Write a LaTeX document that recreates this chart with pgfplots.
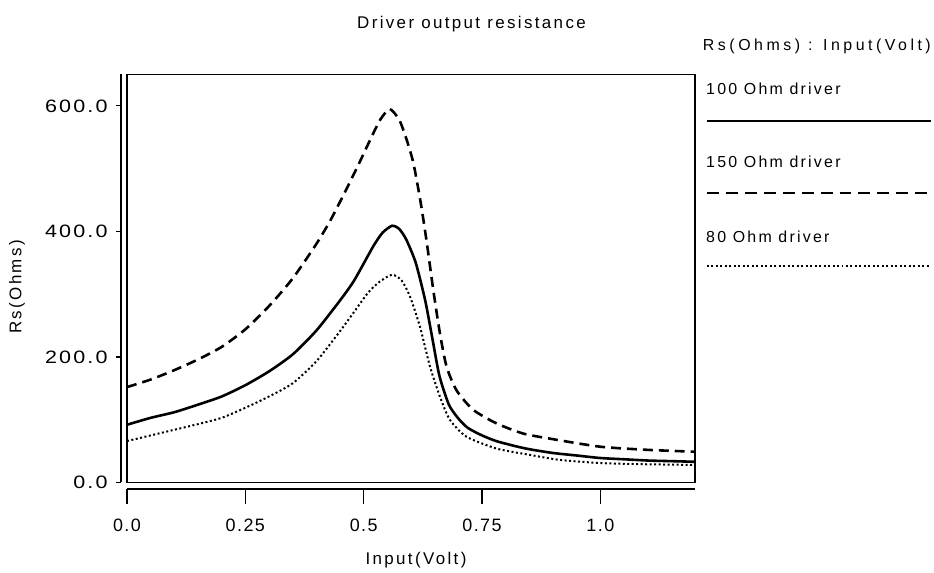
\documentclass[border=0pt]{standalone}
\usepackage{pgfplots}
\pgfplotsset{compat=1.18}
\usepackage{fontspec}
\setmainfont[LetterSpace=14]{Liberation Sans}
\newcommand{\lbl}{\fontsize{16}{19}\selectfont}
\newcommand{\biglbl}{\fontsize{17}{20}\selectfont}
\newcommand{\xlbl}{\fontsize{18}{21}\selectfont\addfontfeature{LetterSpace=8}}
\newcommand{\ylbl}{\fontsize{18}{21}\selectfont\addfontfeature{FakeStretch=1.2,LetterSpace=12}}
\newcommand{\leglbl}{\fontsize{16}{19}\selectfont\addfontfeature{LetterSpace=22}}
\begin{document}
\begin{tikzpicture}[x=1bp,y=1bp]
\path[use as bounding box] (0,0) rectangle (934,573);
\begin{axis}[
  at={(127bp,90.5bp)}, anchor=south west,
  scale only axis, width=568bp, height=408bp,
  xmin=0, xmax=1.2, ymin=0, ymax=650,
  clip=false,
  axis line style={line width=1.2pt},
  xtick={0,0.25,0.5,0.75,1.0}, xticklabels={0.0,0.25,0.5,0.75,1.0},
  ytick={0,200,400,600}, yticklabels={0.0,200.0,400.0,600.0},
  major tick length=0pt,
  /pgf/number format/assume math mode=true,
  xticklabel style={font=\xlbl, yshift=-33bp},
  yticklabel style={font=\ylbl, xshift=-16bp},
]
% 100 Ohm driver
\addplot[black, line width=2.6pt, smooth, tension=0.4] coordinates {
(0,92) (0.05,103) (0.1,112) (0.15,124) (0.2,137) (0.25,155) (0.3,177)
(0.35,204) (0.4,242) (0.45,290) (0.48,322) (0.52,376) (0.54,398) (0.56,409)
(0.575,404) (0.59,387) (0.61,350) (0.63,290) (0.645,230) (0.66,170)
(0.68,124) (0.70,102) (0.72,87) (0.75,75) (0.78,66) (0.82,58) (0.85,53)
(0.9,47) (0.95,43) (1.0,39) (1.05,37) (1.1,35) (1.15,34) (1.2,33)};
% 150 Ohm driver
\addplot[black, line width=2.6pt, dash pattern=on 10pt off 6pt, smooth, tension=0.4] coordinates {
(0,152) (0.05,164) (0.1,179) (0.15,196) (0.2,216) (0.25,244) (0.3,281)
(0.35,325) (0.4,380) (0.43,418) (0.46,462) (0.49,508) (0.515,548)
(0.535,578) (0.555,595) (0.575,578) (0.59,548) (0.605,509) (0.62,448)
(0.633,384) (0.647,307) (0.661,238) (0.675,185) (0.696,147) (0.731,116)
(0.781,94) (0.837,78) (0.9,69) (1.0,57) (1.1,52) (1.2,49)};
% 80 Ohm driver
\addplot[black, line width=2pt, dash pattern=on 2pt off 2.5pt, smooth, tension=0.4] coordinates {
(0,66) (0.05,75) (0.1,84) (0.15,93) (0.2,103) (0.25,119) (0.3,137)
(0.35,158) (0.4,193) (0.45,241) (0.48,272) (0.51,303) (0.534,320)
(0.56,331) (0.58,322) (0.598,296) (0.619,248) (0.64,185) (0.661,137)
(0.682,100) (0.717,73) (0.781,54) (0.851,44) (0.914,36) (1.0,31)
(1.1,29) (1.2,28)};
% offset axis lines and ticks
\draw[line width=1.2pt] ([xshift=-6bp]rel axis cs:0,0) -- ([xshift=-6bp]rel axis cs:0,1);
\draw[line width=1.2pt] ([yshift=-6.5bp]rel axis cs:0,0) -- ([yshift=-6.5bp]rel axis cs:1,0);
\pgfplotsinvokeforeach{0,200,400,600}{\draw[line width=1.2pt] ([xshift=-6bp]axis cs:0,#1) -- ++(-5bp,0);}
\pgfplotsinvokeforeach{0,0.25,0.5,0.75,1.0}{\draw[line width=1.2pt] ([yshift=-6.5bp]axis cs:#1,0) -- ++(0,-15bp);}
\end{axis}
% titles and axis labels
\node[font=\biglbl] at (471.5,549) {Driver output resistance};
\node[font=\biglbl, rotate=90] at (17,286) {Rs(Ohms)};
\node[font=\biglbl] at (416,13) {Input(Volt)};
% legend
\node[font=\leglbl, anchor=east, inner sep=0pt] at (931,527) {Rs(Ohms) : Input(Volt)};
\node[font=\lbl, anchor=west, inner sep=0pt] at (706,484) {100 Ohm driver};
\draw[line width=2.6pt] (707,452) -- (931,452);
\node[font=\lbl, anchor=west, inner sep=0pt] at (706,411) {150 Ohm driver};
\draw[line width=2.6pt, dash pattern=on 12pt off 7pt] (707,380) -- (931,380);
\node[font=\lbl, anchor=west, inner sep=0pt] at (706,336) {80 Ohm driver};
\draw[line width=2pt, dash pattern=on 2pt off 2.5pt] (707,307) -- (931,307);
\end{tikzpicture}
\end{document}
